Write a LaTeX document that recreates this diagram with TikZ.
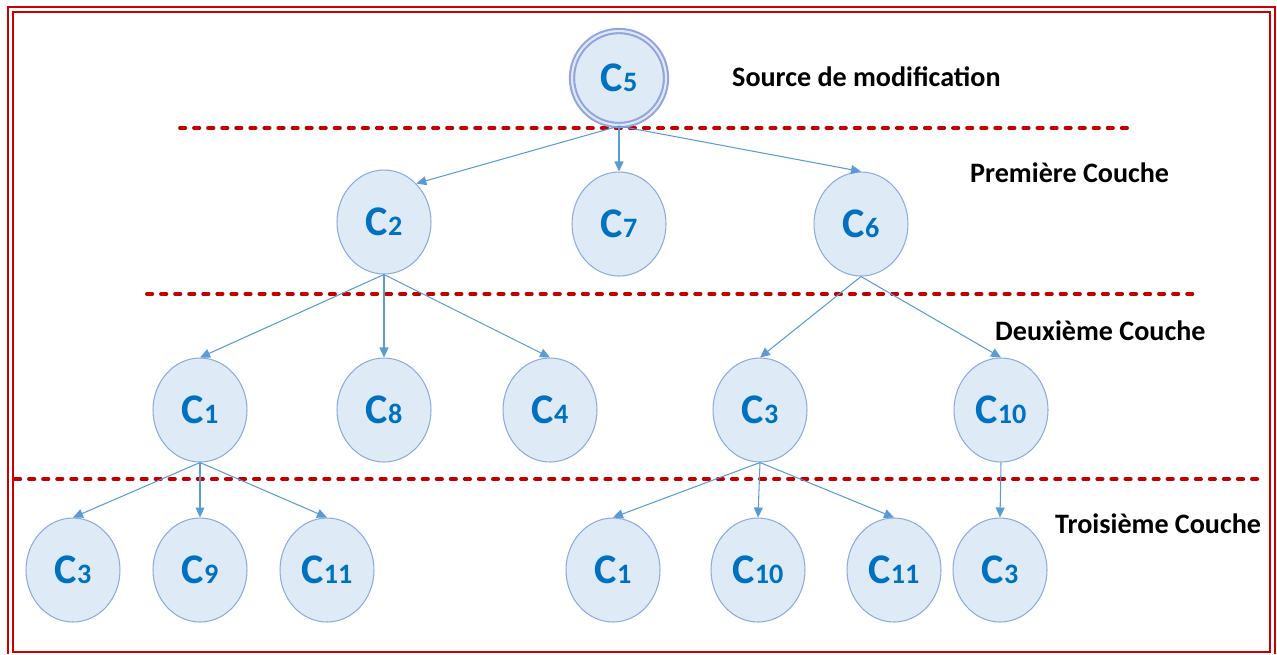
\documentclass[tikz,border=0pt]{standalone}
\usepackage{fontspec}
\setmainfont{Carlito}
\usetikzlibrary{shapes.geometric, arrows.meta, positioning}
\definecolor{cFill}{RGB}{222,235,247}
\definecolor{cEdge}{RGB}{143,170,220}
\definecolor{cText}{RGB}{0,112,192}
\definecolor{cLink}{RGB}{91,155,213}
\definecolor{cRing}{RGB}{150,163,225}
\definecolor{cFrame}{RGB}{200,0,0}
\definecolor{cDash}{RGB}{192,0,0}
\newcommand{\cname}[1]{\textbf{\fontsize{24}{24}\selectfont C\fontsize{16}{16}\selectfont#1}}
\tikzset{
	cell/.style    ={ellipse, draw=cEdge, fill=cFill, line width=0.6pt, minimum width=1.88cm, minimum height=2.08cm, inner sep=0pt, text=cText},
	srccell/.style ={circle, draw=cRing, double=cFill, double distance=1.2pt, line width=1.2pt, fill=cFill, minimum size=1.88cm, inner sep=0pt, text=cText},
	link/.style    ={-{Triangle[length=2mm, width=1.8mm]}, cLink, line width=0.6pt},
	layer/.style   ={cDash, line width=2.2pt, line cap=round, dash pattern=on 3pt off 5pt},
	layertxt/.style={font=\fontsize{16}{16}\selectfont\bfseries, anchor=west},
}
\begin{document}
\begin{tikzpicture}[x=0.02cm, y=-0.02cm]
	\useasboundingbox (0,0) rectangle (1277,654);
	% frame
	\draw[cFrame, line width=1.6pt] (8,654) -- (8,7) -- (1275,7) -- (1275,654);
	\draw[cFrame, line width=1.6pt] (13,12) rectangle (1270,652);
	% layer separators
	\draw[layer] (180,128) -- (1128,128);
	\draw[layer] (147,294) -- (1200,294);
	\draw[layer] (15,479) -- (1264,479);
	% source
	\node[srccell] (c5) at (619,78) {\cname{5}};
	% first layer
	\node[cell] (c2) at (384,222) {\cname{2}};
	\node[cell] (c7) at (619,224) {\cname{7}};
	\node[cell] (c6) at (861,224) {\cname{6}};
	% second layer
	\node[cell] (c1) at (200,410) {\cname{1}};
	\node[cell] (c8) at (384,410) {\cname{8}};
	\node[cell] (c4) at (550,410) {\cname{4}};
	\node[cell] (c3) at (760,410) {\cname{3}};
	\node[cell] (c10) at (1001,410) {\cname{10}};
	% third layer
	\node[cell] (c3a) at (73,570) {\cname{3}};
	\node[cell] (c9a) at (200,570) {\cname{9}};
	\node[cell] (c11a) at (327,570) {\cname{11}};
	\node[cell] (c1b) at (613,570) {\cname{1}};
	\node[cell] (c10b) at (758,570) {\cname{10}};
	\node[cell] (c11b) at (894,570) {\cname{11}};
	\node[cell] (c3c) at (1000,570) {\cname{3}};
	% links
	\draw[link] (c5.south) -- (c2.50);
	\foreach \p/\c in {c5/c7, c5/c6, c2/c1, c2/c8, c2/c4, c6/c3, c6/c10,
		c1/c3a, c1/c9a, c1/c11a, c3/c1b, c3/c10b, c3/c11b, c10/c3c}
		\draw[link] (\p.south) -- (\c.north);
	% layer names
	\node[layertxt] (tsrc) at (726,77) {Source de modification};
	\node[layertxt] (t1) at (964,173) {Première Couche};
	\node[layertxt] (t2) at (989,331) {Deuxième Couche};
	\node[layertxt] (t3) at (1049,524) {Troisième Couche};
\end{tikzpicture}
\end{document}
